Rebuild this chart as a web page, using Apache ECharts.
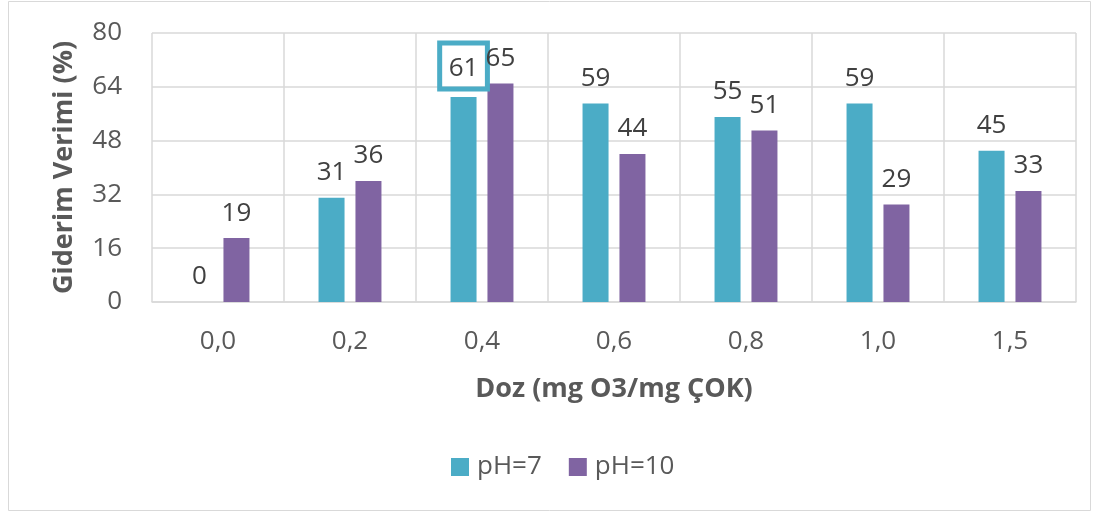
<!DOCTYPE html>
<html>
<head>
<meta charset="utf-8">
<script src="https://cdn.jsdelivr.net/npm/echarts@6/dist/echarts.min.js"></script>
<style>
  html, body { margin: 0; padding: 0; background: #fff; }
  #chart { width: 1093px; height: 513px; }
</style>
</head>
<body>
<div id="chart"></div>
<script>
// veriler
const doses = ['0,0', '0,2', '0,4', '0,6', '0,8', '1,0', '1,5']
const ph7 = [0, 31, 61, 59, 55, 59, 45]
const ph10 = [19, 36, 65, 44, 51, 29, 33]
const yTicks = [0, 16, 32, 48, 64, 80]

const font = 'Open Sans'

let chart = echarts.init(document.getElementById('chart'))

// 0,4 dozundaki pH=7 etiketi kutulu
const ph7Data = ph7.map((v, i) => {
  if (i === 2) {
    return {
      value: v,
      label: {
        borderColor: '#4BACC6',
        borderWidth: 5,
        padding: [13, 9, 7, 9],
        distance: 8,
      },
    }
  }
  return v
})

let option = {
  backgroundColor: '#fff',
  textStyle: { fontFamily: font },
  graphic: [
    {
      type: 'rect',
      shape: { x: 8.5, y: 1.5, width: 1082, height: 509 },
      style: { fill: 'none', stroke: '#d9d9d9', lineWidth: 1 },
      silent: true,
    },
  ],
  grid: {
    left: 152,
    right: 17,
    top: 33,
    bottom: 211,
  },
  legend: {
    bottom: 28,
    left: 446,
    itemWidth: 18,
    itemHeight: 18,
    itemGap: 27,
    icon: 'rect',
    textStyle: { fontSize: 26, color: '#595959', fontFamily: font, padding: [0, 0, 0, 3] },
    data: ['pH=7', 'pH=10'],
  },
  xAxis: {
    type: 'category',
    data: doses,
    name: 'Doz (mg O3/mg ÇOK)',
    nameLocation: 'middle',
    nameGap: 74,
    nameTextStyle: { fontSize: 27, fontWeight: 'bold', color: '#595959', fontFamily: font },
    axisLine: { show: true, lineStyle: { color: '#d9d9d9', width: 1.5 } },
    axisTick: { show: false },
    axisLabel: { fontSize: 26, color: '#595959', margin: 27 },
    splitLine: { show: true, lineStyle: { color: '#d9d9d9', width: 1.5 } },
  },
  yAxis: {
    type: 'value',
    min: yTicks[0],
    max: yTicks[yTicks.length - 1],
    interval: yTicks[1] - yTicks[0],
    name: 'Giderim Verimi (%)',
    nameLocation: 'middle',
    nameGap: 74,
    nameTextStyle: { fontSize: 27, fontWeight: 'bold', color: '#595959', fontFamily: font },
    axisLine: { show: false },
    axisTick: { show: false },
    axisLabel: { fontSize: 26, color: '#595959', margin: 30 },
    splitLine: { lineStyle: { color: '#d9d9d9', width: 1.5 } },
  },
  series: [
    {
      name: 'pH=7',
      type: 'bar',
      data: ph7Data,
      itemStyle: { color: '#4BACC6' },
      barWidth: 26,
      barGap: '42%',
      label: {
        show: true,
        position: 'top',
        distance: 12,
        fontSize: 26,
        color: '#404040',
      },
    },
    {
      name: 'pH=10',
      type: 'bar',
      data: ph10,
      itemStyle: { color: '#8064A2' },
      barWidth: 26,
      label: {
        show: true,
        position: 'top',
        distance: 12,
        fontSize: 26,
        color: '#404040',
      },
    },
  ],
}
chart.setOption(option)
</script>
</body>
</html>
